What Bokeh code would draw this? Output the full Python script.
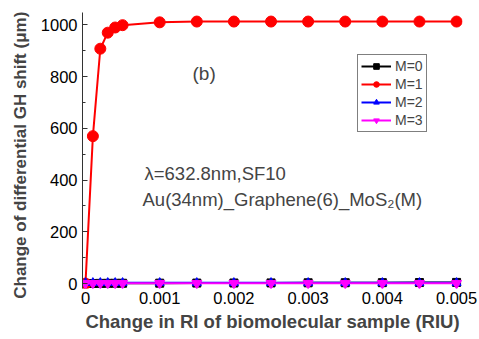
from bokeh.plotting import figure
from bokeh.models import Range1d, FixedTicker, Label, Legend
from bokeh.embed import file_html
from bokeh.resources import INLINE

x_riu = [0, 0.0001, 0.0002, 0.0003, 0.0004, 0.0005, 0.001, 0.0015, 0.002,
         0.0025, 0.003, 0.0035, 0.004, 0.0045, 0.005]
m0 = [0, 0.5, 0.8, 1.0, 1.2, 1.3, 1.6, 2.0, 2.3, 2.6, 3.0, 3.3, 3.6, 4.0, 4.5]
m1 = [0, 570, 908, 970, 990, 999, 1010, 1013, 1013, 1013, 1013, 1013, 1013, 1013, 1013]
m2 = [3, 3, 3, 3, 3, 3, 3, 3, 3, 3, 3, 3, 3, 3, 3]
m3 = [1, 1, 1, 1, 1, 1, 1, 1, 1, 1, 1, 1, 1, 1, 1]
x_ticks = [0, 0.001, 0.002, 0.003, 0.004, 0.005]
x_tick_labels = ["0", "0.001", "0.002", "0.003", "0.004", "0.005"]
y_ticks = [0, 200, 400, 600, 800, 1000]

FONT = "Liberation Sans"

p = figure(width=479, height=339, output_backend="svg", toolbar_location=None,
           x_range=Range1d(-0.00004, 0.00508), y_range=Range1d(-19, 1048),
           min_border_left=82, min_border_right=17, min_border_top=12,
           min_border_bottom=51)
p.outline_line_color = None
p.grid.visible = False
p.background_fill_color = "white"

# axes
p.xaxis.ticker = FixedTicker(ticks=x_ticks)
p.xaxis.major_label_overrides = {t: l for t, l in zip(x_ticks, x_tick_labels)}
p.xaxis.axis_line_color = None
p.xaxis.major_tick_line_color = None
p.xaxis.minor_tick_line_color = None
p.xaxis.major_tick_out = 0
p.xaxis.major_tick_in = 0
p.xaxis.minor_tick_out = 0
p.xaxis.major_label_text_font = FONT
p.xaxis.major_label_text_font_size = "16.5px"
p.xaxis.major_label_text_color = "black"
p.xaxis.major_label_standoff = 3
p.xaxis.axis_label = "Change in RI of biomolecular sample (RIU)"
p.xaxis.axis_label_text_font = FONT
p.xaxis.axis_label_text_font_style = "bold"
p.xaxis.axis_label_text_font_size = "18.5px"
p.xaxis.axis_label_standoff = 4

p.yaxis.ticker = FixedTicker(ticks=y_ticks, minor_ticks=[100, 300, 500, 700, 900])
p.yaxis.axis_line_color = "#333333"
p.yaxis.axis_line_width = 1
p.yaxis.major_tick_out = 0
p.yaxis.major_tick_in = 5
p.yaxis.minor_tick_out = 0
p.yaxis.minor_tick_in = 3
p.yaxis.major_tick_line_color = "#333333"
p.yaxis.minor_tick_line_color = "#333333"
p.yaxis.major_label_text_font = FONT
p.yaxis.major_label_text_font_size = "16.5px"
p.yaxis.major_label_text_color = "black"
p.yaxis.major_label_standoff = 5
# trailing no-break spaces push the visible title a little below the frame centre
p.yaxis.axis_label = "Change of differential GH shift (\u03bcm)" + "\u00a0" * 2
p.yaxis.axis_label_text_font = FONT
p.yaxis.axis_label_text_font_style = "bold"
p.yaxis.axis_label_text_font_size = "17px"
p.yaxis.axis_label_standoff = 8

# series
l0 = p.line(x_riu, m0, line_color="black", line_width=2)
s0 = p.scatter(x_riu, m0, marker="square", size=8, color="black")
l1 = p.line(x_riu, m1, line_color="red", line_width=2)
s1 = p.scatter(x_riu, m1, marker="circle", size=11, color="red")
l2 = p.line(x_riu, m2, line_color="blue", line_width=2)
s2 = p.scatter(x_riu, m2, marker="triangle", size=9, color="blue")
l3 = p.line(x_riu, m3, line_color="magenta", line_width=2)
s3 = p.scatter(x_riu, m3, marker="inverted_triangle", size=10, color="magenta")

legend = Legend(items=[("M=0", [l0, s0]), ("M=1", [l1, s1]),
                       ("M=2", [l2, s2]), ("M=3", [l3, s3])],
                location=(275, 156))
legend.label_text_font = FONT
legend.label_text_font_size = "14px"
legend.label_text_line_height = 1.0
legend.label_height = 14
legend.glyph_height = 14
legend.glyph_width = 30
legend.spacing = 2
legend.padding = 3
legend.margin = 0
legend.border_line_color = "black"
legend.border_line_width = 1
legend.label_standoff = 4
p.add_layout(legend)

p.add_layout(Label(x=110, y=205, x_units="screen", y_units="screen", text="(b)",
                   text_font=FONT, text_font_size="19px"))
p.add_layout(Label(x=62, y=105, x_units="screen", y_units="screen",
                   text="\u03bb=632.8nm,SF10", text_font=FONT, text_font_size="18.5px"))
p.add_layout(Label(x=60, y=79, x_units="screen", y_units="screen",
                   text="Au(34nm)_Graphene(6)_MoS\u2082(M)", text_font=FONT,
                   text_font_size="18.5px"))

open("out.html", "w").write(file_html(p, INLINE))
